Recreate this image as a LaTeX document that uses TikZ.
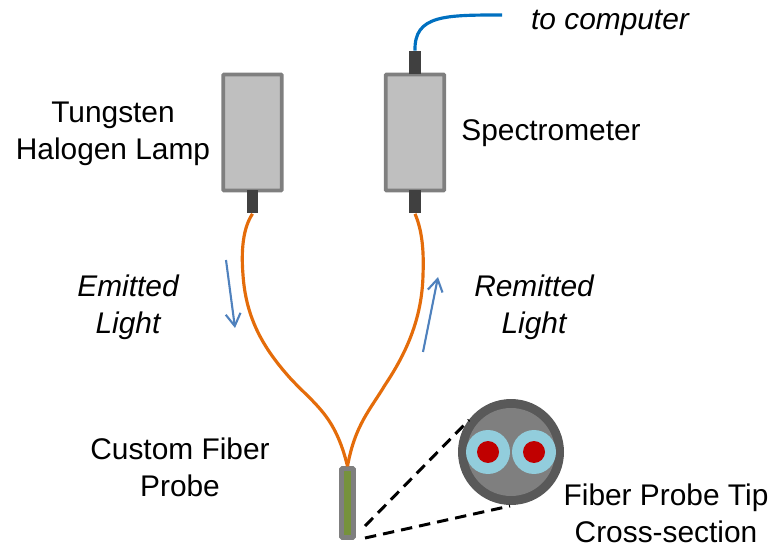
\documentclass[tikz,border=0pt]{standalone}
\usepackage{fontspec}
\setmainfont{Liberation Sans}
\usepackage{tikz}
\usetikzlibrary{calc}
\usetikzlibrary{arrows.meta}
\definecolor{boxgray}{HTML}{BFBFBF}
\definecolor{edgegray}{HTML}{7F7F7F}
\definecolor{portgray}{HTML}{404040}
\definecolor{ringgray}{HTML}{595959}
\definecolor{fiberorange}{HTML}{E46C0A}
\definecolor{cableblue}{HTML}{0070C0}
\definecolor{flowblue}{HTML}{4F81BD}
\definecolor{coreblue}{HTML}{92CDDC}
\definecolor{corered}{HTML}{C00000}
\definecolor{probegreen}{HTML}{76923C}
\tikzstyle{device}=[draw=edgegray,fill=boxgray,line width=2.2pt,rounded corners=0.5pt,minimum width=1.17cm,minimum height=2.32cm,inner sep=0]
\tikzstyle{port}=[fill=portgray,minimum width=0.23cm,minimum height=0.46cm,inner sep=0]
\tikzstyle{fiber}=[draw=fiberorange,line width=1.8pt]
\tikzstyle{flow}=[draw=flowblue,line width=1.2pt,-{Straight Barb[length=7pt,width=8.5pt]}]
\tikzstyle{lbl}=[font=\fontsize{17}{20}\selectfont,align=center,text=black,inner sep=0]
\tikzstyle{ilbl}=[lbl,font=\fontsize{17}{20}\selectfont\itshape]
\begin{document}
\begin{tikzpicture}[x=0.02cm,y=-0.02cm]
\useasboundingbox (0,0) rectangle (776,546);
\coordinate (B1) at (502,15);
\coordinate (E1) at (226,260);
\coordinate (E2) at (235,328);
\coordinate (R1) at (423,352);
\coordinate (R2) at (438,277);
\coordinate (D1) at (365,526);
\coordinate (D2) at (469,420);
\coordinate (D3) at (365,538);
\coordinate (D4) at (510,506);
\node[device] (lamp) at (252.5,132.5) {};
\node[device] (spec) at (415,132.5) {};
\node[port] (lampport) at (252.5,202) {};
\node[port] (specport) at (415,202) {};
\node[port] (usbport) at (415,62.5) {};
\node[draw=edgegray,fill=probegreen,line width=2.6pt,rounded corners=0.5pt,minimum width=0.24cm,minimum height=1.38cm,inner sep=0] (probe) at (347.5,503) {};
\draw [draw=cableblue,line width=1.8pt] (usbport.north) .. controls (414,15) and (445,15) .. (B1);
\draw [fiber] (lampport.south) .. controls (243,228) and (241,250) .. (243,275) .. controls (246,320) and (265,350) .. (290,378) .. controls (315,405) and (335,415) .. (probe.north);
\draw [fiber] (specport.south) .. controls (422,230) and (424,250) .. (423,275) .. controls (422,320) and (405,355) .. (385,385) .. controls (370,410) and (355,425) .. (probe.north);
\draw [flow] (E1) -- (E2);
\draw [flow] (R1) -- (R2);
\node[circle,fill=ringgray,minimum size=2.12cm,inner sep=0] (tip) at (511,452) {};
\node[circle,fill=edgegray,minimum size=1.76cm,inner sep=0] (cladding) at (511,452) {};
\node[circle,fill=coreblue,minimum size=0.88cm,inner sep=0] (fibera) at (488,452) {};
\node[circle,fill=coreblue,minimum size=0.88cm,inner sep=0] (fiberb) at (534,452) {};
\node[circle,fill=corered,minimum size=0.44cm,inner sep=0] (corea) at (488,452) {};
\node[circle,fill=corered,minimum size=0.44cm,inner sep=0] (coreb) at (534,452) {};
\draw [dashed,line width=1.7pt,dash pattern=on 6.5pt off 4pt] (D1) -- (D2);
\draw [dashed,line width=1.7pt,dash pattern=on 6.5pt off 4pt] (D3) -- (D4);
\node[ilbl] (computer) at (610,23) {to computer};
\node[lbl] (lamplabel) at (113,134) {Tungsten\\[1pt]Halogen  Lamp};
\node[lbl] (speclabel) at (551,133) {Spectrometer};
\node[ilbl] (emitted) at (128,307) {Emitted\\[1pt]Light};
\node[ilbl] (remitted) at (534,307) {Remitted\\[1pt]Light};
\node[lbl] (probelabel) at (180,467) {Custom Fiber\\[1pt]Probe};
\node[lbl] (tiplabel) at (666,513) {Fiber Probe Tip\\[1pt]Cross-section};
\end{tikzpicture}
\end{document}
